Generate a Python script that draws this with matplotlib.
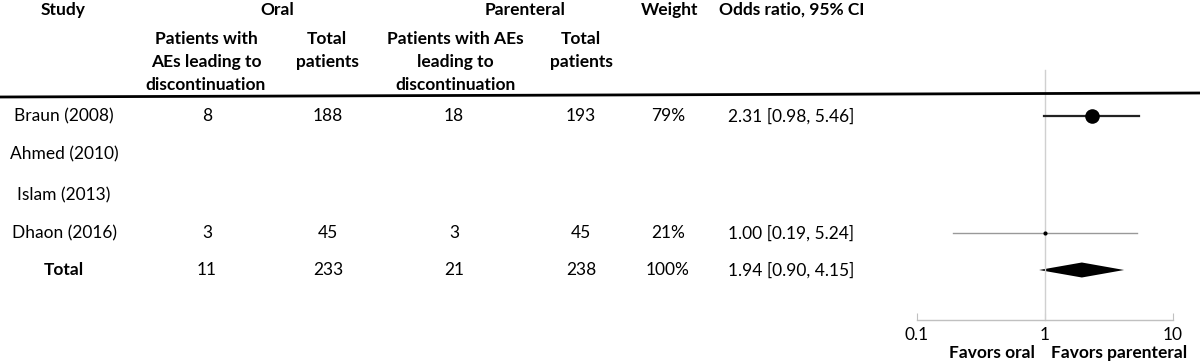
import matplotlib
matplotlib.use("Agg")
import matplotlib.pyplot as plt
import numpy as np

plt.rcParams['font.family'] = ['Lato', 'DejaVu Sans']

# table data
studies = ["Braun (2008)", "Ahmed (2010)", "Islam (2013)", "Dhaon (2016)"]
oral_events = ["8", "", "", "3"]
oral_total = ["188", "", "", "45"]
par_events = ["18", "", "", "3"]
par_total = ["193", "", "", "45"]
weights = ["79%", "", "", "21%"]
or_text = ["2.31 [0.98, 5.46]", "", "", "1.00 [0.19, 5.24]"]

# forest values (None = no estimate)
or_est = [2.31, None, None, 1.00]
ci_lo = [0.98, None, None, 0.19]
ci_hi = [5.46, None, None, 5.24]
marker_px = [14, 0, 0, 4]

total_row = ["Total", "11", "233", "21", "238", "100%", "1.94 [0.90, 4.15]"]
total_or, total_lo, total_hi = 1.94, 0.90, 4.15

W, H = 1200, 363
FS = 12.5
fig = plt.figure(figsize=(W / 100, H / 100), dpi=100)

def put(x, y, s, ha="center", bold=False, size=FS):
    fig.text(x / W, 1 - y / H, s, ha=ha, va="center", fontsize=size,
             fontweight="bold" if bold else "normal")

# headers
put(63, 10, "Study", bold=True)
put(277, 10, "Oral", bold=True)
put(525, 10, "Parenteral", bold=True)
put(670, 10, "Weight", bold=True)
put(792, 10, "Odds ratio, 95% CI", bold=True)
for i, line in enumerate(["Patients with", "AEs leading to", "discontinuation"]):
    put(206, 39 + 23 * i, line, bold=True)
for i, line in enumerate(["Total", "patients"]):
    put(327, 39 + 23 * i, line, bold=True)
    put(581, 39 + 23 * i, line, bold=True)
for i, line in enumerate(["Patients with AEs", "leading to", "discontinuation"]):
    put(455, 39 + 23 * i, line, bold=True)

row_y = [116, 154, 195, 233]
total_y = 270
col_x = [64, 207, 328, 454, 581, 668]
or_x = 728

for i, y in enumerate(row_y):
    put(col_x[0], y, studies[i])
    put(col_x[1], y, oral_events[i])
    put(col_x[2], y, oral_total[i])
    put(col_x[3], y, par_events[i])
    put(col_x[4], y, par_total[i])
    put(col_x[5], y, weights[i])
    put(or_x, y, or_text[i], ha="left")

put(col_x[0], total_y, total_row[0], bold=True)
for j in range(1, 6):
    put(col_x[j], total_y, total_row[j])
put(or_x, total_y, total_row[6], ha="left")

# top rule
fig.add_artist(plt.Line2D([0, 1], [1 - 97 / H, 1 - 93 / H], color="black", lw=2))

# forest plot axes, y in pixel units
x0, x1 = 917, 1173
ax = fig.add_axes([x0 / W, 0, (x1 - x0) / W, 1])
ax.set_xscale("log")
ax.set_xlim(0.1, 10)
ax.set_ylim(H, 0)
ax.patch.set_alpha(0)
for s in ["top", "right", "left"]:
    ax.spines[s].set_visible(False)
ax.spines["bottom"].set_position(("data", 320))
ax.spines["bottom"].set_color("#c0c0c0")
ax.spines["bottom"].set_linewidth(1)
ax.set_yticks([])
ax.set_xticks([0.1, 1, 10])
ax.set_xticklabels(["0.1", "1", "10"])
ax.xaxis.set_minor_locator(matplotlib.ticker.NullLocator())
ax.tick_params(axis="x", direction="in", length=5, color="#c0c0c0", labelsize=FS, pad=5)

ax.plot([1, 1], [70, 320], color="#d0d0d0", lw=1)

for i, y in enumerate(row_y):
    if or_est[i] is None:
        continue
    big = marker_px[i] > 6
    ax.plot([ci_lo[i], ci_hi[i]], [y, y], color="#222222" if big else "#999999",
            lw=1.6 if big else 1.0)
    ax.plot(or_est[i], y, "o", color="black", ms=marker_px[i] * 0.75, mew=0)

ax.fill([total_lo, total_or, total_hi, total_or],
        [total_y, total_y - 7.5, total_y, total_y + 7.5], color="black", lw=0)

ax.text(0.84, 353, "Favors oral", ha="right", va="center", fontsize=FS,
        fontweight="bold")
ax.text(1.11, 353, "Favors parenteral", ha="left", va="center", fontsize=FS,
        fontweight="bold", clip_on=False)

fig.savefig("out.png", dpi=100)
